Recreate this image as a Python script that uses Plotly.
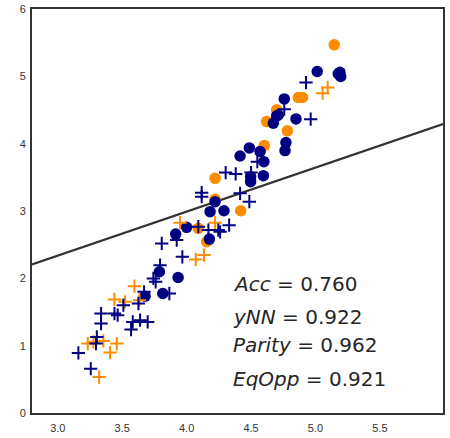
import plotly.graph_objects as go

# Navy circles
nc_x = [5.014, 5.177, 5.196, 5.19, 4.758, 4.849, 4.699, 4.673, 4.712, 4.771, 4.764, 4.415, 4.487, 4.57, 4.6,
        4.596, 4.497, 4.497, 4.221, 4.182, 4.29, 4.177, 4.0, 3.915, 3.934, 3.789, 3.815, 3.678]
nc_y = [5.072, 5.037, 4.998, 5.06, 4.665, 4.368, 4.412, 4.303, 4.427, 4.016, 3.897, 3.817, 3.937, 3.882, 3.733,
        3.525, 3.51, 3.436, 3.138, 2.99, 3.004, 2.583, 2.757, 2.657, 2.013, 2.097, 1.775, 1.735]
# Orange circles
oc_x = [5.146, 4.867, 4.9, 4.699, 4.621, 4.782, 4.603, 4.221, 4.221, 4.42, 4.091, 4.156]
oc_y = [5.468, 4.685, 4.685, 4.502, 4.328, 4.19, 3.971, 3.485, 3.173, 3.004, 2.742, 2.543]
# Navy pluses
np_x = [4.927, 4.963, 4.758, 4.549, 4.303, 4.381, 4.5, 4.117, 4.117, 4.415, 4.487, 4.091, 4.169, 4.246, 4.26,
        4.33, 3.807, 3.923, 3.967, 3.794, 3.742, 3.76, 3.866, 3.67, 3.626, 3.509, 3.44, 3.465, 3.336, 3.336,
        3.582, 3.639, 3.698, 3.569, 3.303, 3.297, 3.16, 3.256]
np_y = [4.908, 4.363, 4.512, 3.733, 3.57, 3.55, 3.57, 3.272, 3.213, 3.262, 3.138, 2.767, 2.717, 2.717, 2.69,
        2.79, 2.519, 2.568, 2.32, 2.196, 1.998, 1.948, 1.775, 1.8, 1.626, 1.601, 1.477, 1.453, 1.477, 1.329,
        1.353, 1.378, 1.353, 1.24, 1.13, 1.031, 0.892, 0.659]
# Orange pluses
op_x = [5.095, 5.056, 3.949, 4.221, 4.071, 4.135, 3.595, 3.44, 3.522, 3.634, 3.233, 3.277, 3.354, 3.458, 3.406, 3.321]
op_y = [4.834, 4.75, 2.826, 2.826, 2.281, 2.345, 1.884, 1.686, 1.651, 1.676, 1.031, 1.056, 1.071, 1.031, 0.897, 0.535]

# Fit line
line_x = [2.8, 5.99]
line_y = [2.207, 4.29]

x_ticks = [3.0, 3.5, 4.0, 4.5, 5.0, 5.5]
y_ticks = [0, 1, 2, 3, 4, 5, 6]

metric_names = ["Acc", "yNN", "Parity", "EqOpp"]
metric_vals = ["0.760", "0.922", "0.962", "0.921"]
metric_y = [1.914, 1.419, 1.007, 0.512]

NAVY = "#000080"
ORANGE = "#FF8C00"

fig = go.Figure()
fig.add_trace(go.Scatter(x=line_x, y=line_y, mode="lines",
                         line=dict(color="#333333", width=2.2), hoverinfo="skip"))
fig.add_trace(go.Scatter(x=oc_x, y=oc_y, mode="markers",
                         marker=dict(color=ORANGE, size=11.5, symbol="circle", line=dict(width=0))))
fig.add_trace(go.Scatter(x=nc_x, y=nc_y, mode="markers",
                         marker=dict(color=NAVY, size=11.5, symbol="circle", line=dict(width=0))))
fig.add_trace(go.Scatter(x=op_x, y=op_y, mode="markers",
                         marker=dict(color=ORANGE, size=9.5, symbol="cross-thin",
                                     line=dict(color=ORANGE, width=2))))
fig.add_trace(go.Scatter(x=np_x, y=np_y, mode="markers",
                         marker=dict(color=NAVY, size=9.5, symbol="cross-thin",
                                     line=dict(color=NAVY, width=2))))

for name, val, yy in zip(metric_names, metric_vals, metric_y):
    fig.add_annotation(x=4.347, y=yy, xref="x", yref="y", xanchor="left", yanchor="middle",
                       text=f"<i>{name}</i> = {val}", showarrow=False,
                       font=dict(family="DejaVu Sans", size=20, color="#262626"))

fig.update_layout(
    width=450, height=438,
    margin=dict(l=32, r=7, t=9, b=25),
    paper_bgcolor="white", plot_bgcolor="white",
    showlegend=False,
    font=dict(family="Liberation Sans, Arial", size=11, color="#333333"),
)
fig.update_xaxes(range=[2.8, 5.99], tickvals=x_ticks, ticktext=[f"{v:.1f}" for v in x_ticks],
                 showgrid=False, zeroline=False, showline=True, linecolor="#333333", linewidth=2,
                 mirror=True, ticks="", ticklen=0, ticklabelstandoff=4, automargin=False)
fig.update_yaxes(range=[0, 6], tickvals=y_ticks, ticktext=[str(v) for v in y_ticks],
                 showgrid=False, zeroline=False, showline=True, linecolor="#333333", linewidth=2,
                 mirror=True, ticks="", ticklen=0, ticklabelstandoff=2, automargin=False)

fig.write_html("out.html")
